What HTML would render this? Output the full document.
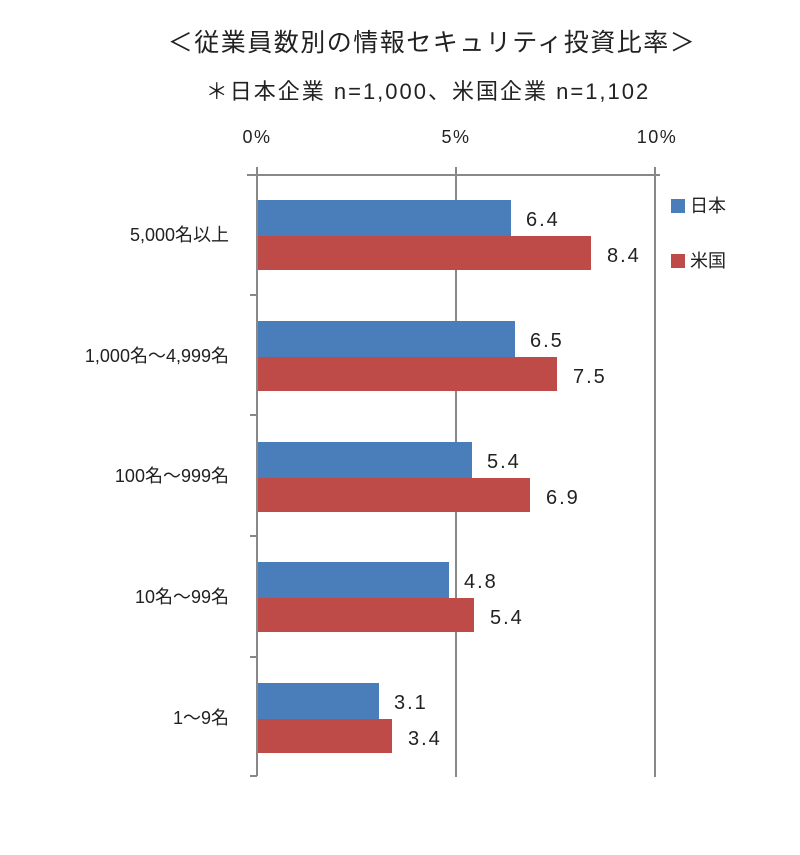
<!DOCTYPE html>
<html><head><meta charset="utf-8"><style>
body{margin:0;background:#fff;}
svg text{font-family:"Liberation Sans","Noto Sans CJK JP",sans-serif;fill:#222;}
</style></head><body>
<svg width="800" height="850" xmlns="http://www.w3.org/2000/svg">
<text x="432" y="51" font-size="25" letter-spacing="1.5" text-anchor="middle">＜従業員数別の情報セキュリティ投資比率＞</text>
<text x="428" y="99" font-size="22" letter-spacing="2" text-anchor="middle">＊日本企業 n=1,000、米国企業 n=1,102</text>
<g font-size="18" letter-spacing="1.5" text-anchor="middle">
<text x="257" y="143">0%</text><text x="456" y="143">5%</text><text x="657" y="143">10%</text>
</g>
<g stroke="#888" stroke-width="2" fill="none">
<line x1="247" y1="175" x2="660" y2="175"/>
<line x1="456" y1="167" x2="456" y2="777"/>
<line x1="655" y1="167" x2="655" y2="777"/>
<line x1="257" y1="167" x2="257" y2="776"/>
<line x1="250" y1="295" x2="257" y2="295"/>
<line x1="250" y1="415" x2="257" y2="415"/>
<line x1="250" y1="536" x2="257" y2="536"/>
<line x1="250" y1="657" x2="257" y2="657"/>
<line x1="250" y1="776" x2="257" y2="776"/>
</g>
<g>
<rect x="258" y="200" width="253" height="36" fill="#4a7ebb"/>
<rect x="258" y="236" width="333" height="34" fill="#be4b48"/>
<rect x="258" y="321" width="257" height="36" fill="#4a7ebb"/>
<rect x="258" y="357" width="299" height="34" fill="#be4b48"/>
<rect x="258" y="442" width="214" height="36" fill="#4a7ebb"/>
<rect x="258" y="478" width="272" height="34" fill="#be4b48"/>
<rect x="258" y="562" width="191" height="36" fill="#4a7ebb"/>
<rect x="258" y="598" width="216" height="34" fill="#be4b48"/>
<rect x="258" y="683" width="121" height="36" fill="#4a7ebb"/>
<rect x="258" y="719" width="134" height="34" fill="#be4b48"/>
</g>
<g font-size="20" letter-spacing="2">
<text x="526" y="226">6.4</text><text x="607" y="262">8.4</text>
<text x="530" y="347">6.5</text><text x="573" y="383">7.5</text>
<text x="487" y="468">5.4</text><text x="546" y="504">6.9</text>
<text x="464" y="588">4.8</text><text x="490" y="624">5.4</text>
<text x="394" y="709">3.1</text><text x="408" y="745">3.4</text>
</g>
<g font-size="18" text-anchor="end">
<text x="229" y="241">5,000名以上</text>
<text x="229" y="362">1,000名～4,999名</text>
<text x="229" y="482">100名～999名</text>
<text x="229" y="603">10名～99名</text>
<text x="229" y="724">1～9名</text>
</g>
<rect x="671" y="199" width="14" height="14" fill="#4a7ebb"/>
<text x="690" y="212" font-size="18">日本</text>
<rect x="671" y="254" width="14" height="14" fill="#be4b48"/>
<text x="690" y="267" font-size="18">米国</text>
</svg>
</body></html>
